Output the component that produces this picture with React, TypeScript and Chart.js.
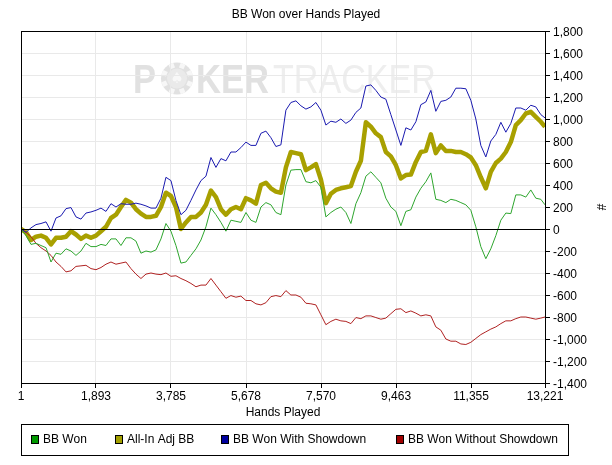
import React, { useEffect, useRef } from "react";
import { Chart, registerables } from "chart.js";

Chart.register(...registerables);

const hands = [
  1, 127, 253, 379, 505, 632, 758, 884, 1010, 1136,
  1262, 1388, 1514, 1640, 1766, 1893, 2019, 2145, 2271, 2397,
  2523, 2649, 2775, 2901, 3027, 3154, 3280, 3406, 3532, 3658,
  3784, 3910, 4036, 4162, 4288, 4415, 4541, 4667, 4793, 4919,
  5045, 5171, 5297, 5423, 5549, 5676, 5802, 5928, 6054, 6180,
  6306, 6432, 6558, 6684, 6810, 6937, 7063, 7189, 7315, 7441,
  7567, 7693, 7819, 7945, 8071, 8198, 8324, 8450, 8576, 8702,
  8828, 8954, 9080, 9206, 9332, 9459, 9585, 9711, 9837, 9963,
  10089, 10215, 10341, 10467, 10593, 10720, 10846, 10972, 11098, 11224,
  11350, 11476, 11602, 11728, 11854, 11981, 12107, 12233, 12359, 12485,
  12611, 12737, 12863, 12989, 13115, 13221,
];

const bbWon = [
  0, -60, -140, -130, -150, -170, -300, -220, -230, -180,
  -200, -240, -200, -130, -160, -160, -140, -150, -90, -90,
  -150, -80, -80, -110, -220, -200, -210, -190, -90, 50,
  -20, -150, -310, -300, -240, -180, -100, 20, 190, 130,
  60, -20, 80, 70, 60, 150, 80, 60, 200, 240,
  220, 150, 130, 400, 535, 540, 540, 430, 420, 440,
  380, 110, 150, 180, 200, 150, 50, 230, 330, 480,
  520, 470, 420, 280, 200, 160, 30, 160, 175, 290,
  370, 430, 510, 270, 260, 240, 270, 260, 240, 220,
  170, 20, -160, -270, -180, -60, 80, 145, 140, 310,
  310, 290, 355, 280, 270, 220,
];

const allInAdjBB = [
  0, -30, -100, -70, -60, -80, -140, -80, -80, -70,
  -20, -50, -90, -60, -80, -60, -20, 20, 100, 130,
  200, 265, 240, 180, 140, 110, 110, 120, 200, 330,
  300, 200, 0, 60, 110, 110, 150, 220, 350, 290,
  180, 130, 180, 200, 180, 280, 260, 230, 400, 420,
  370, 340, 330, 560, 700, 690, 680, 535, 560, 590,
  450, 235, 320, 355, 370, 380, 390, 520, 620, 970,
  930, 870, 835, 700, 660, 580, 460, 490, 495, 610,
  700, 710, 860, 690, 760, 710, 710, 700, 700, 680,
  650, 580, 470, 370, 520, 600, 640, 700, 790, 945,
  990, 1050, 1065, 1020, 975, 930,
];

const wonWithShowdown = [
  0, -30, 10, 40, 50, 65, -20, 100, 120, 185,
  195, 110, 90, 145, 155, 170, 190, 160, 230, 200,
  230, 225, 225, 235, 225, 210, 190, 190, 280, 470,
  440, 260, 130, 170, 260, 355, 440, 480, 650, 560,
  640, 620, 700, 700, 740, 790, 760, 760, 870, 890,
  830, 750, 765, 1080, 1150, 1165, 1120, 1090, 1110, 1150,
  1080, 945, 980, 970, 1000, 960, 990, 1060, 1100, 1300,
  1310, 1260, 1200, 1180, 1040, 900, 760, 920, 900, 975,
  1130, 1155, 1260, 1070, 1160, 1170, 1200, 1280, 1280, 1275,
  1170, 1000, 760, 655, 800, 860, 970, 880, 960, 1100,
  1100, 1080, 1125, 1110, 1040, 1010,
];

const wonWithoutShowdown = [
  0, -30, -70, -130, -170, -200, -240, -300, -340, -390,
  -380, -340, -335, -330, -360, -370, -350, -320, -300, -320,
  -310, -300, -360, -410, -450, -410, -400, -410, -415, -400,
  -430, -425, -450, -470, -495, -525, -510, -510, -450, -510,
  -570, -630, -605, -620, -610, -650, -650, -680, -690, -670,
  -615, -605, -615, -560, -600, -600, -620, -675, -680, -690,
  -780, -870, -840, -820, -835, -840, -860, -805, -815, -790,
  -790, -805, -820, -810, -770, -730, -725, -760, -745, -765,
  -790, -780, -790, -890, -920, -1000, -1020, -1020, -1045, -1050,
  -1030, -995, -960, -935, -910, -890, -860, -835, -835, -815,
  -800, -800, -810, -820, -810, -800,
];

const xTicks = [1, 1893, 3785, 5678, 7570, 9463, 11355, 13221];
const yMin = -1400;
const yMax = 1800;
const yStep = 200;

const seriesNames = ["BB Won", "All-In Adj BB", "BB Won With Showdown", "BB Won Without Showdown"];
const seriesValues = [bbWon, allInAdjBB, wonWithShowdown, wonWithoutShowdown];
const lineColors = ["#2ea62e", "#a8a000", "#1a1ab0", "#b02222"];
const legendColors = ["#009a00", "#a3a000", "#0000a0", "#a00000"];
const lineWidths = [1, 4.5, 1, 1];
const drawOrder = [0, 3, 1, 2];

const chartTitle = "BB Won over Hands Played";
const xTitle = "Hands Played";
const yTitle = "#";

const FONT = "'Liberation Sans', Arial, Helvetica, sans-serif";
const fmt = (v: number) => Number(v).toLocaleString("en-US");

const decorPlugin = {
  id: "decor",
  beforeDraw(chart: any) {
    const ctx = chart.ctx as CanvasRenderingContext2D;
    ctx.save();
    ctx.fillStyle = "#ffffff";
    ctx.fillRect(0, 0, chart.width, chart.height);

    // watermark
    const base = 93;
    const drawFit = (txt: string, x: number, w: number, font: string, color: string) => {
      ctx.font = font;
      const m = ctx.measureText(txt).width;
      ctx.save();
      ctx.translate(x, base);
      ctx.scale(w / m, 1);
      ctx.fillStyle = color;
      ctx.textBaseline = "alphabetic";
      ctx.textAlign = "left";
      ctx.fillText(txt, 0, 0);
      ctx.restore();
    };
    drawFit("P", 133, 23, `bold 40px ${FONT}`, "#e1e1e1");
    // chip
    const cx = 177;
    const cy = 78.5;
    ctx.fillStyle = "#e1e1e1";
    ctx.beginPath();
    ctx.arc(cx, cy, 16, 0, Math.PI * 2);
    ctx.fill();
    ctx.fillStyle = "#f7f7f7";
    for (let k = 0; k < 8; k++) {
      ctx.save();
      ctx.translate(cx, cy);
      ctx.rotate((k * Math.PI) / 4 + Math.PI / 8);
      ctx.fillRect(-2.5, -16, 5, 5);
      ctx.restore();
    }
    ctx.fillStyle = "#eaeaea";
    ctx.beginPath();
    ctx.arc(cx, cy, 10, 0, Math.PI * 2);
    ctx.fill();
    ctx.fillStyle = "#f8f8f8";
    ctx.font = `15px 'DejaVu Sans', sans-serif`;
    ctx.textAlign = "center";
    ctx.textBaseline = "middle";
    ctx.fillText("\u2660", cx, cy + 1);
    drawFit("KER", 196, 73, `bold 40px ${FONT}`, "#e1e1e1");
    drawFit("TRACKER", 273, 163, `40px ${FONT}`, "#eeeeee");
    ctx.restore();
  },
  afterDatasetsDraw(chart: any) {
    const ctx = chart.ctx as CanvasRenderingContext2D;
    const a = chart.chartArea;
    const ys = chart.scales.y;
    ctx.save();
    // zero line
    const y0 = Math.round(ys.getPixelForValue(0)) + 0.5;
    ctx.strokeStyle = "#000";
    ctx.lineWidth = 1;
    ctx.beginPath();
    ctx.moveTo(a.left, y0);
    ctx.lineTo(a.right, y0);
    ctx.stroke();
    // border
    ctx.strokeRect(Math.round(a.left) + 0.5, Math.round(a.top) + 0.5, Math.round(a.right - a.left), Math.round(a.bottom - a.top));

    ctx.fillStyle = "#000";
    ctx.font = `12px ${FONT}`;
    ctx.textBaseline = "middle";
    ctx.textAlign = "center";
    ctx.fillText(chartTitle, 306, 15);
    ctx.fillText(xTitle, (a.left + a.right) / 2, 413);
    ctx.save();
    ctx.translate(600, (a.top + a.bottom) / 2);
    ctx.rotate(Math.PI / 2);
    ctx.fillText(yTitle, 0, 0);
    ctx.restore();

    // legend
    ctx.strokeRect(21.5, 424.5, 547, 31);
    const sq = [31, 115, 221, 396];
    const ly = 440;
    ctx.textAlign = "left";
    for (let i = 0; i < seriesNames.length; i++) {
      ctx.fillStyle = legendColors[i];
      ctx.fillRect(sq[i], ly - 4, 8, 8);
      ctx.strokeStyle = "#000";
      ctx.strokeRect(sq[i] + 0.5, ly - 4.5, 7, 8);
      ctx.fillStyle = "#000";
      ctx.fillText(seriesNames[i], sq[i] + 12, ly);
    }
    ctx.restore();
  },
};

export default function App() {
  const ref = useRef<HTMLCanvasElement | null>(null);

  useEffect(() => {
    document.body.style.margin = "0";
    const canvas = ref.current;
    if (!canvas) return;
    const chart = new Chart(canvas, {
      type: "line",
      data: {
        datasets: seriesNames.map((name, i) => ({
          label: name,
          data: hands.map((h, j) => ({ x: h, y: seriesValues[i][j] })),
          borderColor: lineColors[i],
          backgroundColor: lineColors[i],
          borderWidth: lineWidths[i],
          pointRadius: 0,
          tension: 0,
          fill: false,
          borderJoinStyle: "round" as const,
          order: drawOrder[i],
        })),
      },
      options: {
        responsive: false,
        animation: false,
        devicePixelRatio: 1,
        layout: { padding: { left: 21, top: 31, right: 0, bottom: 0 } },
        plugins: {
          legend: { display: false },
          title: { display: false },
          tooltip: { enabled: false },
        },
        scales: {
          x: {
            type: "linear",
            min: xTicks[0],
            max: xTicks[xTicks.length - 1],
            afterBuildTicks: (s: any) => {
              s.ticks = xTicks.map((v) => ({ value: v }));
            },
            afterFit: (s: any) => {
              s.height = 82;
            },
            ticks: {
              autoSkip: false,
              maxRotation: 0,
              minRotation: 0,
              padding: 1,
              color: "#000",
              font: { family: FONT, size: 12 },
              callback: (v: any) => fmt(v),
            },
            grid: { color: "#e9e9e9", tickColor: "#000", tickLength: 5, drawTicks: true },
            border: { display: false },
          },
          y: {
            type: "linear",
            position: "right",
            min: yMin,
            max: yMax,
            afterFit: (s: any) => {
              s.width = 67;
            },
            ticks: {
              stepSize: yStep,
              padding: 3,
              labelOffset: 2,
              color: "#000",
              font: { family: FONT, size: 12 },
              callback: (v: any) => fmt(v),
            },
            grid: { color: "#e9e9e9", tickColor: "#000", tickLength: 5, drawTicks: true },
            border: { display: false },
          },
        },
      },
      plugins: [decorPlugin],
    } as any);
    return () => chart.destroy();
  }, []);

  return (
    <div style={{ position: "fixed", left: 0, top: 0, width: 612, height: 465, background: "#fff" }}>
      <canvas ref={ref} width={612} height={465} style={{ display: "block", width: 612, height: 465 }} />
    </div>
  );
}
